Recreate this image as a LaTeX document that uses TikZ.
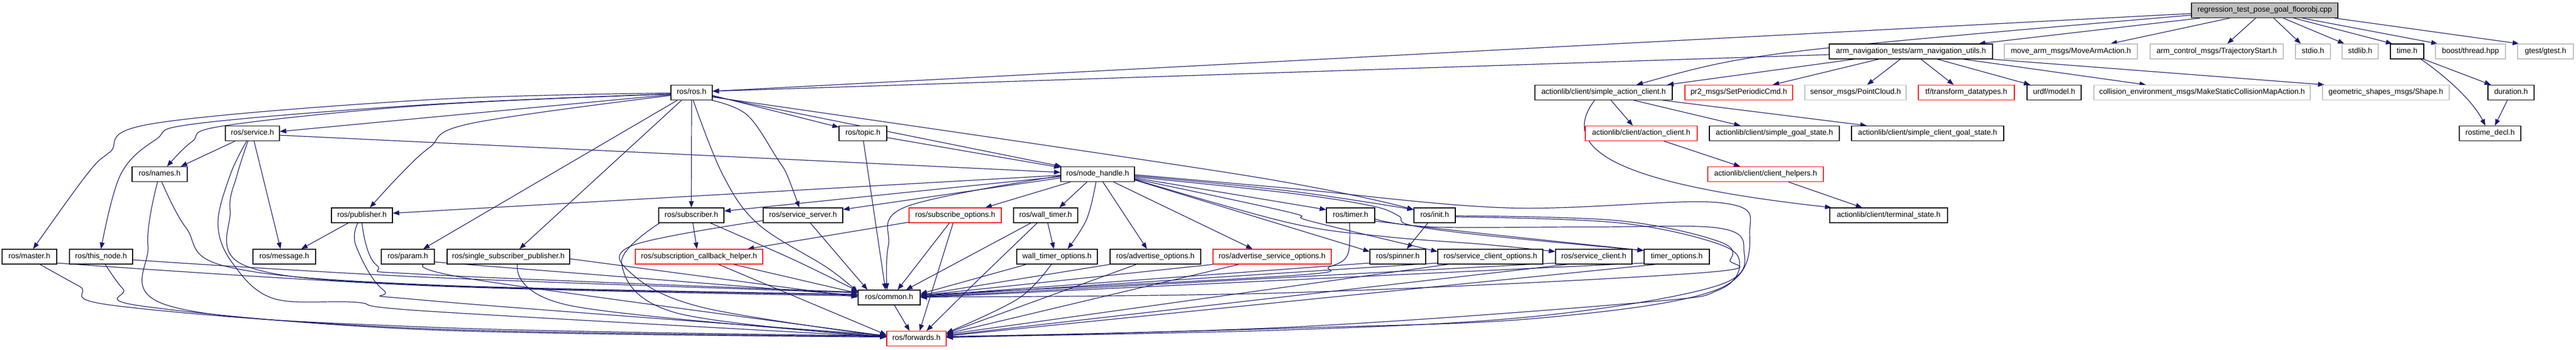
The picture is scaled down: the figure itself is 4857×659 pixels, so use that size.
\documentclass[tikz,border=0pt]{standalone}
\usepackage{fontspec}
\setmainfont{Liberation Sans}
\usetikzlibrary{arrows.meta}
\definecolor{edgeblue}{RGB}{25,25,112}
\definecolor{greyseventyfive}{RGB}{191,191,191}
\pgfdeclarelayer{edgelayer}
\pgfsetlayers{edgelayer,main}
\tikzset{
  nb/.style={draw=black, line width=1.3pt, fill=white, minimum height=28pt, inner sep=0pt,
             text height=10.5pt, text depth=4.1pt, anchor=center},
  ng/.style={nb, draw=greyseventyfive},
  nr/.style={nb, draw=red},
  nroot/.style={nb, fill=greyseventyfive},
  e/.style={draw=edgeblue, line width=1.2pt, -{Triangle[length=12pt,width=9pt]}},
  sm/.style={smooth, tension=0.6}
}
\begin{document}
\begin{tikzpicture}[x=1pt, y=-1pt, font=\fontsize{14.3pt}{17pt}\selectfont]
\begin{pgfonlayer}{edgelayer}
\fill[white] (0,0) rectangle (4857,659);
\end{pgfonlayer}
\useasboundingbox (0,0) rectangle (4857,659);

% row 0
\node[nroot, minimum width=276pt] (root) at (4270,19.5) {regression\_test\_pose\_goal\_floorobj.cpp};
% row 1
\node[nb, minimum width=308pt] (anu) at (3603,97) {arm\_navigation\_tests/arm\_navigation\_utils.h};
\node[ng, minimum width=251pt] (mam) at (3904.5,97) {move\_arm\_msgs/MoveArmAction.h};
\node[ng, minimum width=251pt] (tsm) at (4179.5,97) {arm\_control\_msgs/TrajectoryStart.h};
\node[ng, minimum width=66pt] (stdio) at (4361,97) {stdio.h};
\node[ng, minimum width=68pt] (stdlib) at (4450,97) {stdlib.h};
\node[nb, minimum width=63pt] (timeh) at (4538.5,97) {time.h};
\node[ng, minimum width=132pt] (boost) at (4658,97) {boost/thread.hpp};
\node[ng, minimum width=105pt] (gtest) at (4799.5,97) {gtest/gtest.h};
% row 2
\node[nb, minimum width=78pt] (rosros) at (1304,174.5) {ros/ros.h};
\node[nb, minimum width=259pt] (sac) at (3023.5,174.5) {actionlib/client/simple\_action\_client.h};
\node[nr, minimum width=203pt] (pr2) at (3278.5,174.5) {pr2\_msgs/SetPeriodicCmd.h};
\node[ng, minimum width=191pt] (pcl) at (3498.5,174.5) {sensor\_msgs/PointCloud.h};
\node[nr, minimum width=181pt] (tfd) at (3707.5,174.5) {tf/transform\_datatypes.h};
\node[nb, minimum width=102pt] (urdf) at (3873,174.5) {urdf/model.h};
\node[ng, minimum width=408pt] (cem) at (4152,174.5) {collision\_environment\_msgs/MakeStaticCollisionMapAction.h};
\node[ng, minimum width=239pt] (geo) at (4498.5,174.5) {geometric\_shapes\_msgs/Shape.h};
\node[nb, minimum width=87pt] (dur) at (4734.5,174.5) {duration.h};
% row 3
\node[nb, minimum width=102pt] (service) at (476,251.5) {ros/service.h};
\node[nb, minimum width=90pt] (topic) at (1627,251.5) {ros/topic.h};
\node[nr, minimum width=211pt] (acl) at (3094.5,251.5) {actionlib/client/action\_client.h};
\node[nb, minimum width=245pt] (sgs) at (3345.5,251.5) {actionlib/client/simple\_goal\_state.h};
\node[nb, minimum width=287pt] (scgs) at (3634.5,251.5) {actionlib/client/simple\_client\_goal\_state.h};
\node[nb, minimum width=116pt] (rtd) at (4695,251.5) {rostime\_decl.h};
% row 4
\node[nb, minimum width=104pt] (names) at (301,328.5) {ros/names.h};
\node[nb, minimum width=139pt] (nh) at (2069.5,328.5) {ros/node\_handle.h};
\node[nr, minimum width=218pt] (chl) at (3329,328.5) {actionlib/client/client\_helpers.h};
% row 5
\node[nb, minimum width=115pt] (pub) at (682.5,406) {ros/publisher.h};
\node[nb, minimum width=123pt] (sub) at (1303.5,406) {ros/subscriber.h};
\node[nb, minimum width=150pt] (srv) at (1514,406) {ros/service\_server.h};
\node[nr, minimum width=174pt] (sopt) at (1801,406) {ros/subscribe\_options.h};
\node[nb, minimum width=121pt] (wt) at (1971.5,406) {ros/wall\_timer.h};
\node[nb, minimum width=91pt] (timer) at (2546.5,406) {ros/timer.h};
\node[nb, minimum width=78pt] (init) at (2705,406) {ros/init.h};
\node[nb, minimum width=222pt] (term) at (3561,406) {actionlib/client/terminal\_state.h};
% row 6
\node[nb, minimum width=103pt] (master) at (55.5,484) {ros/master.h};
\node[nb, minimum width=119pt] (thisn) at (190.5,484) {ros/this\_node.h};
\node[nb, minimum width=118pt] (msg) at (536,484) {ros/message.h};
\node[nb, minimum width=100pt] (param) at (769,484) {ros/param.h};
\node[nb, minimum width=231pt] (ssp) at (958.5,484) {ros/single\_subscriber\_publisher.h};
\node[nr, minimum width=240pt] (sch) at (1318,484) {ros/subscription\_callback\_helper.h};
\node[nb, minimum width=152pt] (wto) at (1993,484) {wall\_timer\_options.h};
\node[nb, minimum width=171pt] (ado) at (2178.5,484) {ros/advertise\_options.h};
\node[nr, minimum width=223pt] (aso) at (2398.5,484) {ros/advertise\_service\_options.h};
\node[nb, minimum width=105pt] (spin) at (2635.5,484) {ros/spinner.h};
\node[nb, minimum width=198pt] (sco) at (2810,484) {ros/service\_client\_options.h};
\node[nb, minimum width=144pt] (scl) at (3005,484) {ros/service\_client.h};
\node[nb, minimum width=123pt] (tmo) at (3161.5,484) {timer\_options.h};
% row 7, 8
\node[nb, minimum width=117pt] (common) at (1676.5,561) {ros/common.h};
\node[nr, minimum width=112pt] (fwd) at (1728,638.5) {ros/forwards.h};

\begin{pgfonlayer}{edgelayer}
% ---- root
\draw[e] ([yshift=-6pt]root.west) -- ([yshift=2.5pt]rosros.east);
\draw[e] ([yshift=-9pt]root.west) .. controls (3300,100) .. ([xshift=62pt]sac.north);
\draw[e] ([xshift=-122pt]root.south) -- ([xshift=128pt]anu.north);
\draw[e] ([xshift=-66pt]root.south) -- ([xshift=75pt]mam.north);
\draw[e] ([xshift=-17pt]root.south) -- ([xshift=20pt]tsm.north);
\draw[e] ([xshift=17pt]root.south) -- ([xshift=-23pt]stdio.north);
\draw[e] ([xshift=35pt]root.south) -- ([xshift=-30pt]stdlib.north);
\draw[e] ([xshift=55pt]root.south) -- ([xshift=-28pt]timeh.north);
\draw[e] ([xshift=71pt]root.south) -- ([xshift=-62pt]boost.north);
\draw[e] ([xshift=132pt]root.south) -- ([xshift=-50pt]gtest.north);
% ---- arm_navigation_utils
\draw[e] ([yshift=-6pt]anu.west) -- ([yshift=2.5pt]rosros.east);
\draw[e] ([xshift=-107pt]anu.south) -- ([xshift=120pt]sac.north);
\draw[e] ([xshift=-61pt]anu.south) -- ([xshift=64pt]pr2.north);
\draw[e] ([xshift=-20pt]anu.south) -- ([xshift=22pt]pcl.north);
\draw[e] ([xshift=19pt]anu.south) -- ([xshift=-24pt]tfd.north);
\draw[e] ([xshift=50pt]anu.south) -- ([xshift=-45pt]urdf.north);
\draw[e] ([xshift=99pt]anu.south) -- ([xshift=-106pt]cem.north);
\draw[e] ([xshift=152pt]anu.south) -- ([xshift=-116pt]geo.north);
% ---- time
\draw[e] ([xshift=31pt]timeh.south) -- ([xshift=-38pt]dur.north);
\draw[e] ([xshift=26pt]timeh.south) .. controls (4620,150) and (4665,195) .. ([xshift=-9pt]rtd.north);
\draw[e] ([xshift=-7pt]dur.south) -- ([xshift=9pt]rtd.north);
% ---- actionlib
\draw[e] ([xshift=14pt]sac.south) -- ([xshift=-16pt]acl.north);
\draw[e] ([xshift=57pt]sac.south) -- ([xshift=-64pt]sgs.north);
\draw[e] ([xshift=112pt]sac.south) -- ([xshift=-115pt]scgs.north);
\draw[e] ([xshift=-17pt]sac.south) .. controls (2930,290) and (3080,350) .. ([xshift=-108pt]term.north);
\draw[e] ([xshift=43pt]acl.south) -- ([xshift=-48pt]chl.north);
\draw[e] ([xshift=43pt]chl.south) -- ([xshift=-50pt]term.north);
% ---- ros/ros.h
\draw[e] plot[sm] coordinates {([yshift=-1pt]rosros.west) (810,188) (289,233) (207,287) (163,330) ([xshift=7pt]master.north)};
\draw[e] plot[sm] coordinates {([yshift=-2.5pt]rosros.west) (810,197) (372,233) (294,263) (227,330) (thisn.north)};
\draw[e] plot[sm] coordinates {([yshift=-3pt]rosros.west) (810,198) (424,237) (362,267) ([xshift=14pt]names.north)};
\draw[e] ([yshift=-4pt]rosros.west) -- ([yshift=3.5pt]service.east);
\draw[e] plot[sm] coordinates {([yshift=-5.5pt]rosros.west) (887,233) (810,278) (754,330) ([xshift=15pt]pub.north)};
\draw[e] ([xshift=-27pt]rosros.south) -- ([xshift=29pt]param.north);
\draw[e] ([xshift=-19pt]rosros.south) -- ([xshift=21pt]ssp.north);
\draw[e] (rosros.south) -- (sub.north);
\draw[e] plot[sm] coordinates {([xshift=3pt]rosros.south) (1363,330) (1430,423) (1560,505) ([yshift=10pt]common.west)};
\draw[e] plot[sm] coordinates {([xshift=38pt]rosros.south) (1409,217) (1466,300) (1484,330) ([xshift=-7pt]srv.north)};
\draw[e] ([yshift=-5.5pt]rosros.east) -- ([yshift=-3pt]topic.north west);
\draw[e] ([yshift=-7pt]rosros.east) -- ([xshift=2pt]nh.north west);
\draw[e] plot[sm] coordinates {([yshift=-8.5pt]rosros.east) (2343,330) ([yshift=-4pt]init.north west)};
% ---- topic
\draw[e] ([yshift=-8pt]topic.east) -- ([yshift=-2pt]nh.north west);
\draw[e] ([xshift=1pt]topic.south) -- ([xshift=-7pt]common.north);
% ---- service
\draw[e] ([xshift=-33pt]service.south) -- ([xshift=40pt]names.north);
\draw[e] ([yshift=-3.5pt]service.east) -- ([yshift=3.5pt]nh.west);
\draw[e] ([xshift=3pt]service.south) -- ([xshift=-7pt]msg.north);
\draw[e] plot[sm] coordinates {([xshift=-8.5pt]service.south) (447,330) (434,397) (465,502) (810,538) ([yshift=5pt]common.west)};
\draw[e] plot[sm] coordinates {([xshift=-11pt]service.south) (434,330) (411,423) (439,497) (516,563) (671,570) (810,587) ([yshift=3pt]fwd.west)};
% ---- names
\draw[e] plot[sm] coordinates {([xshift=-4pt]names.south) (279,463) (320,577) (810,617) ([yshift=5pt]fwd.west)};
\draw[e] plot[sm] coordinates {([xshift=4pt]names.south) (351,430) (429,503) (810,537) ([yshift=6pt]common.west)};
% ---- master, this_node
\draw[e] plot[sm] coordinates {([xshift=20pt]master.south) (150,540) (222,577) (810,620) ([yshift=4pt]fwd.west)};
\draw[e] plot[sm] coordinates {([yshift=-12pt]master.east) (810,539) ([yshift=3pt]common.west)};
\draw[e] plot[sm] coordinates {([xshift=8pt]thisn.south) (232,545) (274,578) (810,622) ([yshift=3pt]fwd.west)};
\draw[e] plot[sm] coordinates {([yshift=-6pt]thisn.east) (810,523) ([yshift=9pt]common.west)};
% ---- publisher
\draw[e] ([xshift=-26pt]pub.south) -- ([xshift=32pt]msg.north);
\draw[e] plot[sm] coordinates {([xshift=-8pt]pub.south) (671,463) (723,547) (810,567) ([yshift=6pt]fwd.west)};
\draw[e] plot[sm] coordinates {(pub.south) (710,500) (810,518) ([yshift=10pt]common.west)};
% ---- param, single_subscriber_publisher
\draw[e] ([yshift=-10pt]param.east) -- ([yshift=4pt]common.west);
\draw[e] plot[sm] coordinates {([xshift=30pt]param.south) (913,530) ([yshift=5pt]fwd.west)};
\draw[e] ([yshift=-4pt]ssp.east) -- ([yshift=1pt]common.west);
\draw[e] plot[sm] coordinates {([xshift=17pt]ssp.south) (1079,577) ([yshift=4pt]fwd.west)};
% ---- subscriber
\draw[e] ([xshift=3pt]sub.south) -- ([xshift=-4pt]sch.north);
\draw[e] plot[sm] coordinates {([xshift=-60pt]sub.south) (1172,497) (1275,590) ([yshift=3pt]fwd.west)};
\draw[e] plot[sm] coordinates {([xshift=36pt]sub.south) (1497,490) ([yshift=12pt]common.west)};
% ---- service_server
\draw[e] plot[sm] coordinates {([yshift=-10pt]srv.west) (1192,463) (1192,517) (1326,580) ([yshift=4pt]fwd.west)};
\draw[e] ([xshift=14pt]srv.south) -- ([xshift=-41pt]common.north);
% ---- subscription_callback_helper
\draw[e] ([xshift=65pt]sch.south) -- ([yshift=8pt]common.west);
\draw[e] ([xshift=37pt]sch.south) -- ([yshift=7pt]fwd.west);
% ---- subscribe_options
\draw[e] ([yshift=-13pt]sopt.west) -- ([xshift=-29pt]sch.north east);
\draw[e] ([xshift=-11pt]sopt.south) -- ([xshift=16pt]common.north);
\draw[e] ([xshift=-4pt]sopt.south) -- ([xshift=6pt]fwd.north);
% ---- wall_timer
\draw[e] ([xshift=4pt]wt.south) -- ([xshift=-6pt]wto.north);
\draw[e] ([xshift=-28pt]wt.south) -- ([xshift=32pt]common.north);
\draw[e] plot[sm] coordinates {([xshift=-16pt]wt.south) (1842,530) ([xshift=19pt]fwd.north)};
% ---- wall_timer_options, advertise
\draw[e] ([xshift=-58pt]wto.south) -- ([yshift=7pt]common.east);
\draw[e] plot[sm] coordinates {([xshift=-11pt]wto.south) (1920,563) ([yshift=11pt]fwd.east)};
\draw[e] (ado.south west) -- ([yshift=5pt]common.east);
\draw[e] ([xshift=-36pt]ado.south) -- ([yshift=10pt]fwd.east);
\draw[e] (aso.south west) -- ([yshift=4pt]common.east);
\draw[e] ([xshift=-63pt]aso.south) -- ([yshift=9pt]fwd.east);
% ---- node_handle
\draw[e] ([yshift=-2pt]nh.west) -- ([yshift=4pt]pub.east);
\draw[e] ([yshift=-4.5pt]nh.west) -- ([yshift=8pt]sub.east);
\draw[e] ([yshift=-7pt]nh.west) -- ([yshift=11pt]srv.east);
\draw[e] plot[sm] coordinates {([yshift=-3pt]nh.west) (1708,390) (1675,463) ([xshift=-4pt]common.north)};
\draw[e] ([xshift=-51pt]nh.south) -- ([xshift=57pt]sopt.north);
\draw[e] ([xshift=-20pt]nh.south) -- ([xshift=26pt]wt.north);
\draw[e] plot[sm] coordinates {([xshift=-3pt]nh.south) (2049,413) ([xshift=20pt]wto.north)};
\draw[e] ([xshift=10pt]nh.south) -- ([xshift=-16pt]ado.north);
\draw[e] ([xshift=30pt]nh.south) -- ([xshift=-37pt]aso.north);
\draw[e] ([yshift=-7pt]nh.east) -- ([yshift=-4pt]timer.north west);
\draw[e] plot[sm] coordinates {([yshift=-3pt]nh.east) (2430,360) ([yshift=-4pt]init.north west)};
\draw[e] ([yshift=-11pt]nh.east) -- ([yshift=-5pt]spin.north west);
\draw[e] plot[sm] coordinates {([yshift=-9pt]nh.east) (2430,400) (2471,417) ([yshift=-5pt]sco.north west)};
\draw[e] plot[sm] coordinates {([yshift=-10pt]nh.east) (2430,420) (2610,446) (2800,461) ([yshift=-5pt]scl.north west)};
\draw[e] plot[sm] coordinates {([yshift=-5pt]nh.east) (2430,364) (2585,388) (2637,407) (2657,424) (2792,443) ([yshift=-3pt]tmo.north west)};
\draw[e] plot[sm] coordinates {([yshift=-1pt]nh.east) (2430,355) (2843,392) (3240,382) (3299,437) (3240,545) (2900,600) (2430,619) ([yshift=2pt]fwd.east)};
% ---- timer
\draw[e] plot[sm] coordinates {([yshift=-11pt]timer.east) (2792,440) ([yshift=-3pt]tmo.north west)};
\draw[e] plot[sm] coordinates {([yshift=-7pt]timer.east) (2700,428) (3000,428) (3240,430) (3288,470) (3240,538) (2900,596) (2430,622) ([yshift=3pt]fwd.east)};
\draw[e] plot[sm] coordinates {([xshift=-2pt]timer.south) (2541,480) (2507,503) (2430,520) ([yshift=5pt]common.east)};
% ---- init
\draw[e] ([xshift=-13pt]init.south) -- ([xshift=17pt]spin.north);
\draw[e] plot[sm] coordinates {([yshift=-1pt]init.east) (3050,416) (3240,455) (3262,490) (3200,515) (2430,552) ([yshift=1pt]common.east)};
\draw[e] plot[sm] coordinates {([yshift=-3pt]init.east) (3050,420) (3240,460) (3280,500) (3240,547) (3100,570) (2430,617) ([yshift=4pt]fwd.east)};
% ---- spinner, service_client(_options), timer_options
\draw[e] ([yshift=-12pt]spin.west) -- ([yshift=3pt]common.east);
\draw[e] ([yshift=-12pt]sco.west) -- ([yshift=2pt]common.east);
\draw[e] ([xshift=-80pt]sco.south) -- ([yshift=8pt]fwd.east);
\draw[e] ([yshift=-12pt]scl.west) -- ([yshift=1pt]common.east);
\draw[e] ([xshift=-50pt]scl.south) -- ([yshift=6pt]fwd.east);
\draw[e] ([yshift=-12pt]tmo.west) -- (common.east);
\draw[e] ([xshift=-40pt]tmo.south) -- ([yshift=5pt]fwd.east);
% ---- common
\draw[e] ([xshift=10pt]common.south) -- ([xshift=-13pt]fwd.north);
\end{pgfonlayer}
\end{tikzpicture}
\end{document}
